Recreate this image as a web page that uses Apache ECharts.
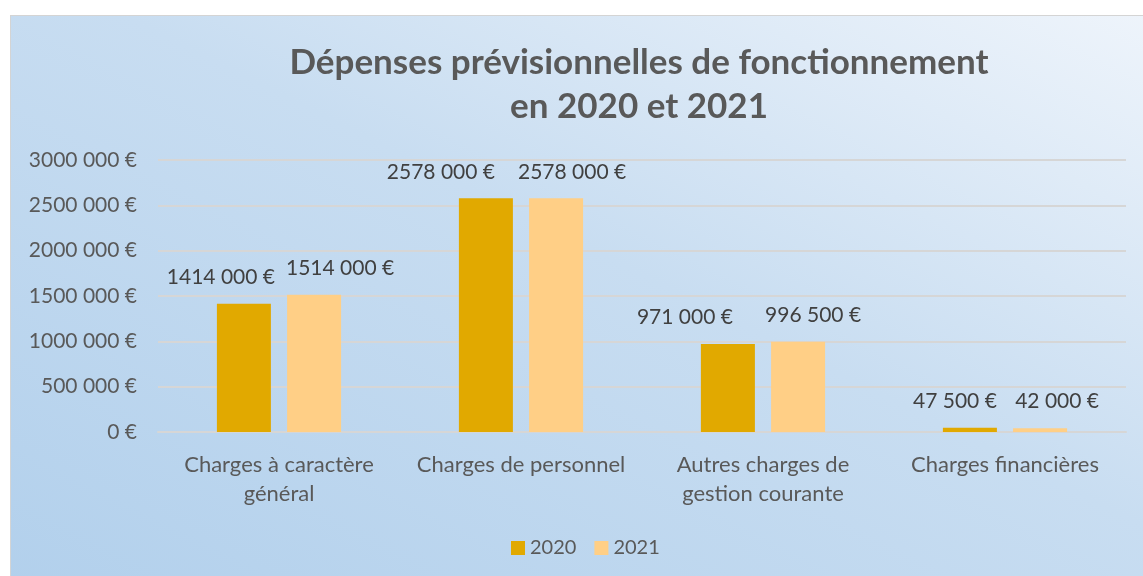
<!DOCTYPE html>
<html>
<head>
<meta charset="utf-8">
<script src="https://cdn.jsdelivr.net/npm/echarts@6/dist/echarts.min.js"></script>
<style>
  html, body { margin: 0; padding: 0; background: #fff; }
  #bg {
    position: absolute; left: 10px; top: 15px; width: 1140px; height: 570px;
    border-left: 1px solid #d4d4d4; border-top: 1px solid #d4d4d4;
    background: linear-gradient(to top right, #b2d0ec 0%, #c8ddf1 55%, #eef4fb 100%);
  }
  #chart { position: absolute; left: 0; top: 0; width: 1143px; height: 576px; }
</style>
</head>
<body>
<div id="bg"></div>
<div id="chart"></div>
<script>
const categories = ['Charges à caractère\ngénéral', 'Charges de personnel', 'Autres charges de\ngestion courante', 'Charges financières'];
const years = ['2020', '2021'];
const values2020 = [1414000, 2578000, 971000, 47500];
const values2021 = [1514000, 2578000, 996500, 42000];

// format "à la française" : 1414 000 €
function euro(v) {
    if (v === 0) return '0 €';
    const k = Math.floor(v / 1000);
    const r = v % 1000;
    return k + ' ' + String(r).padStart(3, '0') + ' €';
}

const FONT = 'Lato';
const colors = ['#E1A900', '#FFCF86'];
// décalage des étiquettes comme dans Excel (pour ne pas se chevaucher)
const labelShift = [[-23, -45, -43, -15], [26, 16, 15, 17]];

function buildSeries(name, vals, idx) {
    return {
        name: name, type: 'bar', barWidth: 54, barGap: '30%',
        itemStyle: {color: colors[idx]},
        data: vals.map((v, i) => ({
            value: v,
            label: {offset: [labelShift[idx][i], 0]}
        })),
        label: {
            show: true, position: 'top', distance: 16,
            fontFamily: FONT, fontSize: 21, color: '#404040',
            formatter: p => euro(p.value)
        }
    };
}

const option = {
    animation: false,
    title: {
        text: 'Dépenses prévisionnelles de fonctionnement\nen 2020 et 2021',
        left: 634, top: 36, textAlign: 'center',
        textStyle: {fontFamily: FONT, fontSize: 35, fontWeight: 'bold', color: '#595959', lineHeight: 44}
    },
    legend: {
        data: years, left: 506, top: 533,
        itemWidth: 14, itemHeight: 14, itemGap: 18, icon: 'rect',
        textStyle: {fontFamily: FONT, fontSize: 20, color: '#595959'}
    },
    grid: {left: 158, right: 17, top: 160, bottom: 144, containLabel: false},
    xAxis: {
        type: 'category', data: categories,
        axisLine: {lineStyle: {color: '#d6d6d6', width: 2}},
        axisTick: {show: false},
        axisLabel: {fontFamily: FONT, fontSize: 22, color: '#595959', margin: 18, lineHeight: 29, interval: 0}
    },
    yAxis: {
        type: 'value', min: 0, max: 3000000, interval: 500000,
        axisLine: {show: false}, axisTick: {show: false},
        splitLine: {lineStyle: {color: '#d6d6d6', width: 2}},
        axisLabel: {fontFamily: FONT, fontSize: 21, color: '#595959', margin: 21, formatter: euro}
    },
    series: [buildSeries(years[0], values2020, 0), buildSeries(years[1], values2021, 1)]
};

const myChart = echarts.init(document.getElementById('chart'));
myChart.setOption(option);
</script>
</body>
</html>
